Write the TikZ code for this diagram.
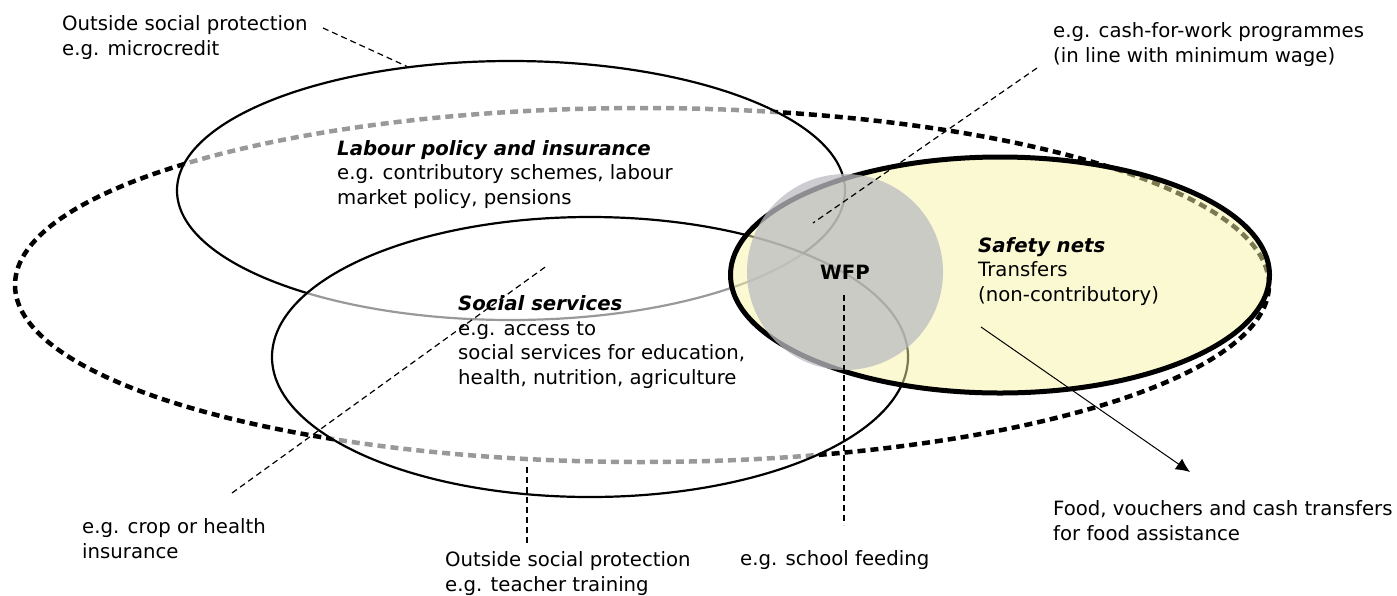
\documentclass[tikz,border=0pt]{standalone}
\usepackage{fontspec}
\setmainfont{DejaVu Sans}
\usetikzlibrary{shapes.geometric,arrows.meta}
\definecolor{netfill}{RGB}{247,243,165}
\definecolor{wfpfill}{RGB}{188,188,194}
\begin{document}
\begin{tikzpicture}[x=1pt,y=-1pt,>={Latex[length=14pt,width=13pt]},font=\fontsize{19.7}{24.5}\selectfont]
\tikzset{ring/.style={draw,ellipse,inner sep=0pt,line width=2.2pt,fill=white,fill opacity=.6},
  lead/.style={line width=1.2pt,dash pattern=on 6pt off 4pt},
  txt/.style={anchor=base west,inner sep=0pt,align=left}}
\useasboundingbox (0,0) rectangle (1397,595);
% the four areas and WFP
\node[ellipse,draw,inner sep=0pt,line width=4.5pt,dash pattern=on 8pt off 5pt,minimum width=1254pt,minimum height=354pt](O) at (642,285){};
\node[ring,minimum width=668pt,minimum height=259pt](L) at (511,190.5){};
\node[ring,minimum width=636pt,minimum height=280pt](S) at (590,357){};
\node[ring,line width=5pt,fill=netfill,fill opacity=.5,minimum width=539pt,minimum height=236pt](N) at (1000,275){};
\node[circle,fill=wfpfill,fill opacity=.75,text opacity=1,inner sep=0pt,minimum size=196pt,font=\fontsize{19.7}{24.5}\selectfont\bfseries](W) at (845,272){WFP};
% labels (anchored on the baseline of their last line)
\node[txt](m) at (62,55){Outside social protection\\e.g. microcredit};
\node[txt](c) at (1053,62){e.g. cash-for-work programmes\\(in line with minimum wage)};
\node[txt](l) at (337,204){\textbf{\textit{Labour policy and insurance}}\\e.g. contributory schemes, labour\\market policy, pensions};
\node[txt](s) at (458,384){\textbf{\textit{Social services}}\\e.g. access to\\social services for education,\\health, nutrition, agriculture};
\node[txt](n) at (978,301){\textbf{\textit{Safety nets}}\\Transfers\\(non-contributory)};
\node[txt](k) at (82,558){e.g. crop or health\\insurance};
\node[txt](t) at (445,591){Outside social protection\\e.g. teacher training};
\node[txt](f) at (740,565){e.g. school feeding};
\node[txt](v) at (1053,540){Food, vouchers and cash transfers\\for food assistance};
% leaders
\coordinate (m1) at (323,28);
\coordinate (c1) at (1037,68); \coordinate (c2) at (813,223);
\coordinate (k1) at (232,493); \coordinate (k2) at (548,265);
\coordinate (t1) at (527,543);
\coordinate (f1) at (844,295); \coordinate (f2) at (844,525);
\coordinate (v1) at (981,327); \coordinate (v2) at (1190,472);
\draw[lead] (m1) -- (L.130);
\draw[lead] (c1) -- (c2);
\draw[lead] (k1) -- (k2);
\draw[lead] (t1) -- (t1 |- O.south);
\draw[lead] (f1) -- (f2);
\draw[->,line width=1pt] (v1) -- (v2);
\end{tikzpicture}
\end{document}
